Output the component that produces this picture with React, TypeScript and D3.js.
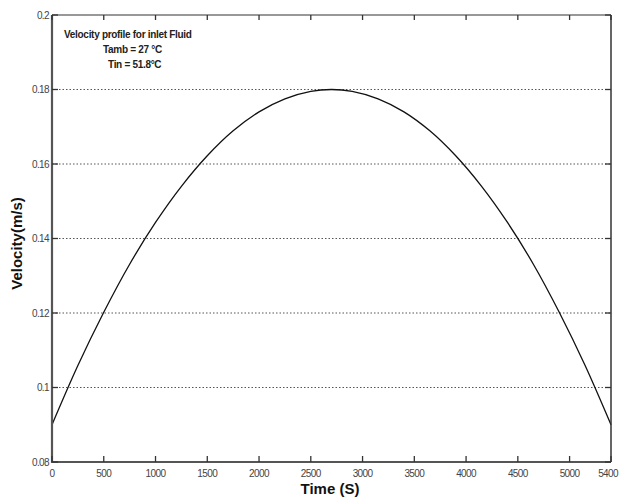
import React from "react";
import * as d3 from "d3";

const times = [0, 250, 500, 750, 1000, 1250, 1500, 1750, 2000, 2250, 2500, 2700, 2900, 3150, 3400, 3650, 3900, 4150, 4400, 4650, 4900, 5150, 5400];
const velocity = [0.09, 0.1059, 0.1202, 0.1331, 0.1443, 0.154, 0.1622, 0.1689, 0.174, 0.1775, 0.1795, 0.18, 0.1795, 0.1775, 0.174, 0.1689, 0.1622, 0.154, 0.1443, 0.1331, 0.1202, 0.1059, 0.09];
const xTicks = [0, 500, 1000, 1500, 2000, 2500, 3000, 3500, 4000, 4500, 5000, 5400];
const yTicks = [0.08, 0.1, 0.12, 0.14, 0.16, 0.18, 0.2];
const yTickLabels = ["0.08", "0.1", "0.12", "0.14", "0.16", "0.18", "0.2"];
const annotation = ["Velocity profile for inlet Fluid", "Tamb = 27 °C", "Tin = 51.8°C"];

export default function App() {
  const W = 619, H = 498;
  const L = 52, T = 15, R = 611, B = 462;
  const x = d3.scaleLinear().domain([0, 5400]).range([L, R]);
  const y = d3.scaleLinear().domain([0.08, 0.2]).range([B, T]);
  const line = d3.line<number>().x((_, i) => x(times[i])).y((d) => y(d)).curve(d3.curveCatmullRom);
  const font = "'Liberation Sans', Arial, sans-serif";
  return (
    <svg width={W} height={H} style={{ position: "absolute", left: 0, top: 0, background: "#fff" }} fontFamily={font}>
      <rect width={W} height={H} fill="#fff" />
      {yTicks.slice(1, -1).map((t) => (
        <line key={"g" + t} x1={L} x2={R} y1={y(t)} y2={y(t)} stroke="#555" strokeWidth={1} strokeDasharray="1.5,2" />
      ))}
      <path d={line(velocity) || ""} fill="none" stroke="#111" strokeWidth={1.3} />
      <line x1={L} x2={R} y1={T} y2={T} stroke="#333" strokeWidth={1.2} />
      <line x1={R} x2={R} y1={T} y2={B} stroke="#333" strokeWidth={1.5} />
      <line x1={L} x2={L} y1={T} y2={B + 1} stroke="#555" strokeWidth={2.2} />
      <line x1={L} x2={R} y1={B} y2={B} stroke="#555" strokeWidth={2.2} />
      {xTicks.map((t, i) => {
        const last = i === xTicks.length - 1;
        return (
          <g key={"x" + t}>
            <line x1={x(t)} x2={x(t)} y1={B} y2={B - 6} stroke="#333" strokeWidth={1.3} />
            <line x1={x(t)} x2={x(t)} y1={T} y2={T + 5} stroke="#333" strokeWidth={1.3} />
            <text x={last ? W - 1 : x(t)} y={B + 15} fontSize={10} fill="#444" textAnchor={last ? "end" : "middle"} letterSpacing={-0.6}>{t}</text>
          </g>
        );
      })}
      {yTicks.map((t, i) => (
        <g key={"y" + t}>
          <line x1={L} x2={L + 6} y1={y(t)} y2={y(t)} stroke="#333" strokeWidth={1.3} />
          <line x1={R} x2={R - 6} y1={y(t)} y2={y(t)} stroke="#333" strokeWidth={1.3} />
          <text x={L - 3} y={y(t) + 3.5} fontSize={10} fill="#444" textAnchor="end" letterSpacing={-0.6}>{yTickLabels[i]}</text>
        </g>
      ))}
      <text x={64} y={38} fontSize={10} fontWeight="bold" fill="#222" letterSpacing={-0.3}>{annotation[0]}</text>
      <text x={103} y={53} fontSize={10} fontWeight="bold" fill="#222" letterSpacing={-0.3}>{annotation[1]}</text>
      <text x={108} y={68} fontSize={10} fontWeight="bold" fill="#222" letterSpacing={-0.3}>{annotation[2]}</text>
      <text x={330} y={494} fontSize={15} fontWeight="bold" fill="#111" textAnchor="middle">Time (S)</text>
      <text transform={`translate(22,${(T + B) / 2 + 5}) rotate(-90)`} fontSize={15} fontWeight="bold" fill="#111" textAnchor="middle">Velocity(m/s)</text>
    </svg>
  );
}
